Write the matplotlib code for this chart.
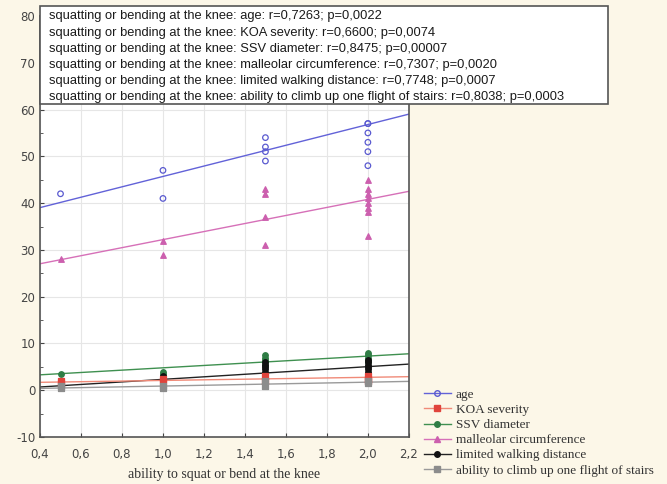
import numpy as np
import matplotlib
matplotlib.use('Agg')
import matplotlib.pyplot as plt
from matplotlib.lines import Line2D
from matplotlib.patches import Rectangle
from matplotlib.ticker import MultipleLocator, FixedLocator

plt.rcParams['axes.unicode_minus'] = False

# ------------------------------------------------------------
# Data: ability to squat / bend at the knee vs. clinical variables
# ------------------------------------------------------------
series_names = ["age", "KOA severity", "SSV diameter", "malleolar circumference",
                "limited walking distance", "ability to climb up one flight of stairs"]

age_x = [0.5, 1.0, 1.0, 1.5, 1.5, 1.5, 1.5, 2.0, 2.0, 2.0, 2.0, 2.0, 2.0]
age_y = [42, 47, 41, 54, 52, 51, 49, 57, 55, 53, 51, 48, 57]

koa_x = [0.5, 0.5, 1.0, 1.0, 1.5, 1.5, 2.0, 2.0, 2.0]
koa_y = [2.0, 1.5, 2.0, 2.5, 3.0, 2.0, 3.0, 2.5, 2.0]

ssv_x = [0.5, 1.0, 1.0, 1.0, 1.5, 1.5, 1.5, 1.5, 1.5, 2.0, 2.0, 2.0, 2.0, 2.0]
ssv_y = [3.5, 4.0, 3.5, 3.0, 7.5, 7.0, 6.5, 6.0, 5.5, 8.0, 7.5, 7.0, 6.5, 6.0]

mall_x = [0.5, 1.0, 1.0, 1.5, 1.5, 1.5, 1.5, 2.0, 2.0, 2.0, 2.0, 2.0, 2.0, 2.0, 2.0]
mall_y = [28, 32, 29, 43, 42, 37, 31, 45, 43, 42, 41, 40, 39, 38, 33]

walk_x = [0.5, 0.5, 1.0, 1.0, 1.0, 1.0, 1.5, 1.5, 1.5, 1.5, 1.5, 1.5,
          2.0, 2.0, 2.0, 2.0, 2.0, 2.0, 2.0]
walk_y = [1.5, 1.0, 3.0, 2.5, 2.0, 2.0, 6.0, 5.5, 5.0, 4.5, 4.0, 3.5,
          6.5, 6.0, 5.5, 5.0, 4.5, 4.0, 3.5]

stairs_x = [0.5, 0.5, 1.0, 1.0, 1.5, 1.5, 2.0, 2.0]
stairs_y = [0.5, 1.0, 1.0, 0.5, 2.0, 1.0, 2.0, 1.5]

# regression lines (intercept, slope) per series
fit_intercept = [34.6, 1.43, 2.3, 23.6, -0.39, 0.07]
fit_slope = [11.1, 0.67, 2.5, 8.6, 2.72, 0.83]

r_values = ["0,7263", "0,6600", "0,8475", "0,7307", "0,7748", "0,8038"]
p_values = ["0,0022", "0,0074", "0,00007", "0,0020", "0,0007", "0,0003"]

x_ticks = [0.4, 0.6, 0.8, 1.0, 1.2, 1.4, 1.6, 1.8, 2.0, 2.2]
x_ticklabels = ["0,4", "0,6", "0,8", "1,0", "1,2", "1,4", "1,6", "1,8", "2,0", "2,2"]
y_ticks = [-10, 0, 10, 20, 30, 40, 50, 60, 70, 80]

# ------------------------------------------------------------
# Styles
# ------------------------------------------------------------
point_sets = [(age_x, age_y), (koa_x, koa_y), (ssv_x, ssv_y),
              (mall_x, mall_y), (walk_x, walk_y), (stairs_x, stairs_y)]
marker_col = ['#5a5ad0', '#e0443c', '#2f7d45', '#cc5fae', '#111111', '#8c8c8c']
line_col = ['#6262d8', '#f08a78', '#3f9050', '#d670b8', '#222222', '#9a9a9a']
markers = ['o', 's', 'o', '^', 'o', 's']
filled = [False, True, True, True, True, True]

bg = '#fcf7e8'
fig = plt.figure(figsize=(6.67, 4.84), dpi=100, facecolor=bg)
ax = fig.add_axes([0.060, 0.097, 0.553, 0.870])
ax.set_facecolor('white')

xx = np.linspace(0.4, 2.2, 50)
handles = []
order = [0, 3, 2, 4, 1, 5]
for i in order:
    px, py = point_sets[i]
    fc = marker_col[i] if filled[i] else 'none'
    ax.scatter(px, py, marker=markers[i], s=16, facecolors=fc,
               edgecolors=marker_col[i], linewidths=0.9, zorder=3)
    ax.plot(xx, fit_intercept[i] + fit_slope[i] * xx, color=line_col[i],
            lw=1.0, zorder=2)

for i in range(6):
    fc = marker_col[i] if filled[i] else 'none'
    handles.append(Line2D([], [], color=line_col[i], lw=1.0, marker=markers[i],
                          markersize=4, markerfacecolor=fc,
                          markeredgecolor=marker_col[i]))

ax.set_xlim(0.4, 2.2)
ax.set_ylim(-10, 80)
ax.xaxis.set_major_locator(FixedLocator(x_ticks))
ax.set_xticklabels(x_ticklabels)
ax.set_yticks(y_ticks)
ax.yaxis.set_minor_locator(MultipleLocator(5))
ax.tick_params(axis='both', which='both', direction='in', labelsize=8.5,
               colors='#444444', length=3)
ax.tick_params(axis='y', which='minor', length=2)
ax.tick_params(axis='x', pad=8)
ax.grid(True, color='#e6e6e6', lw=0.8)
ax.set_axisbelow(True)
for s in ax.spines.values():
    s.set_color('#555555')
    s.set_linewidth(1.2)

ax.set_xlabel("ability to squat or bend at the knee", family='Liberation Serif',
              fontsize=10, color='#333333', labelpad=5)

# correlation summary box over the top of the plot
box = Rectangle((0.060, 0.785), 0.852, 0.203, transform=fig.transFigure,
                facecolor='white', edgecolor='#555555', lw=1.2, zorder=5)
fig.patches.append(box)
for k in range(6):
    txt = (f"squatting or bending at the knee: {series_names[k]}: "
           f"r={r_values[k]}; p={p_values[k]}")
    fig.text(0.073, 0.966 - k * 0.0334, txt, family='Liberation Sans',
             fontsize=9.3, color='#1a1a1a', va='center', zorder=6)

fig.legend(handles, series_names, loc='upper left',
           bbox_to_anchor=(0.628, 0.208), frameon=False,
           prop={'family': 'Liberation Serif', 'size': 9.5},
           handlelength=2.0, handletextpad=0.4, labelspacing=0.22,
           borderaxespad=0, labelcolor='#333333')

fig.savefig("out.png", dpi=100, facecolor=bg)
